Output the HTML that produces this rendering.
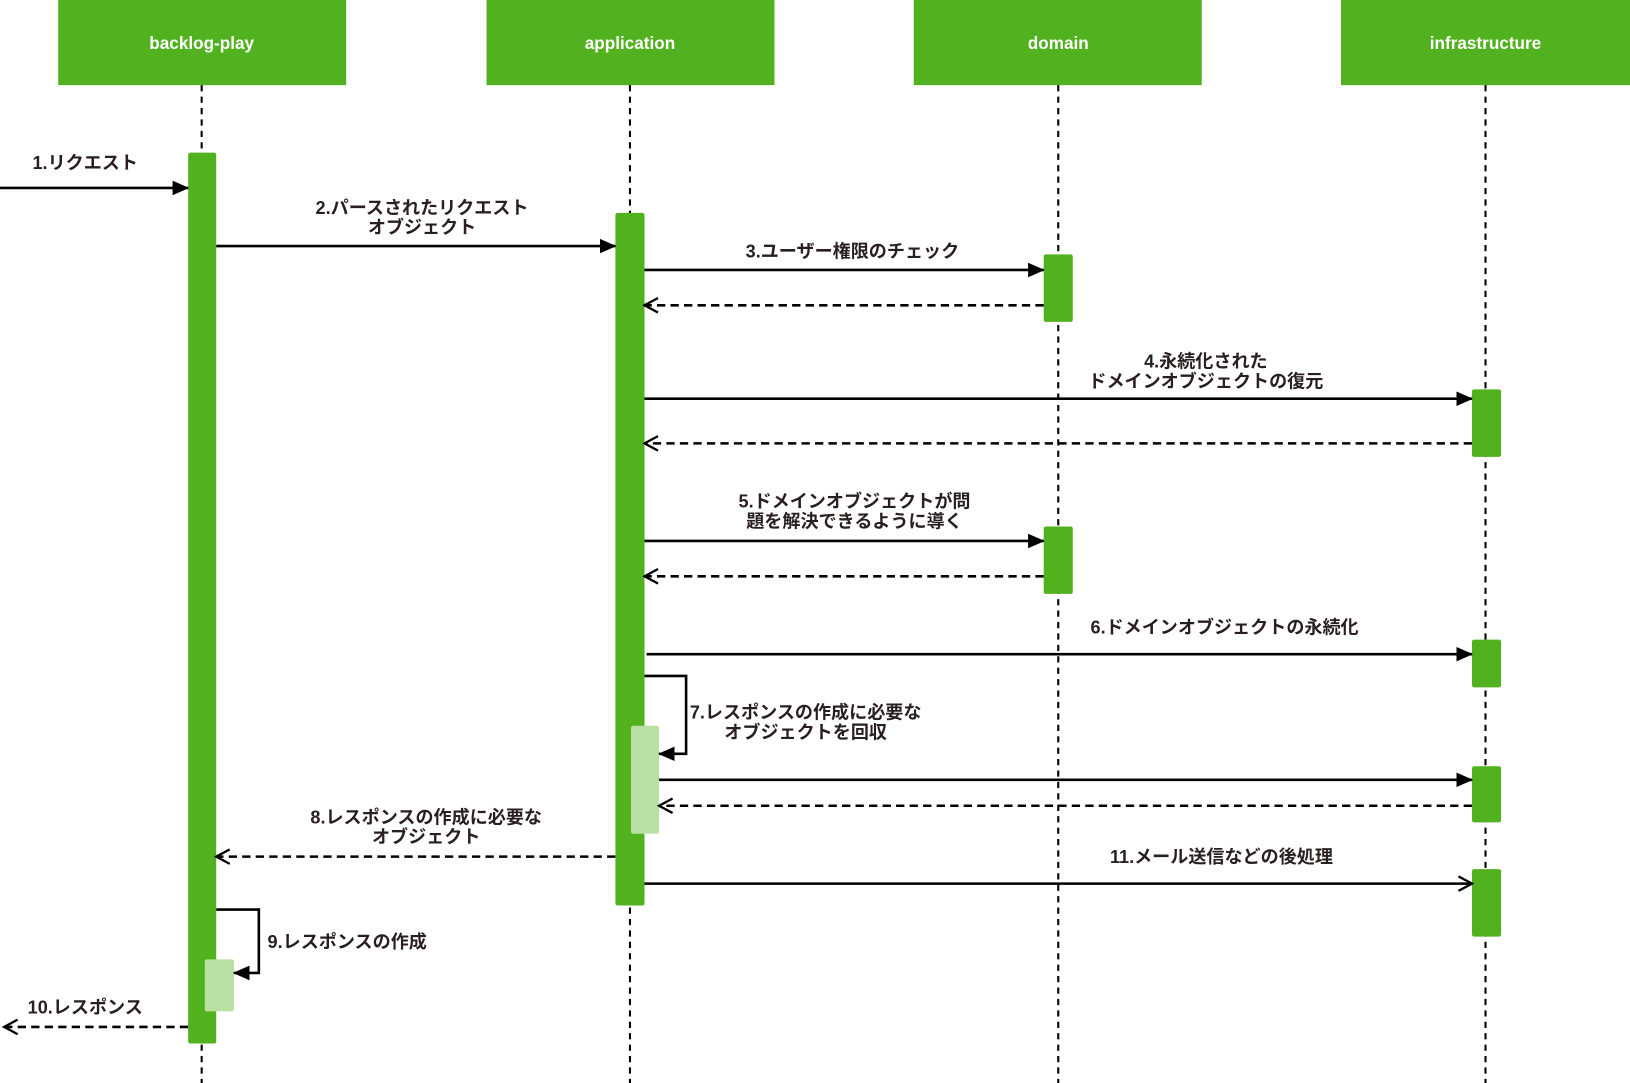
<!DOCTYPE html>
<html><head><meta charset="utf-8">
<style>
html,body{margin:0;padding:0;background:#fff;}
svg{display:block;}
text{font-family:"Liberation Sans","Noto Sans CJK JP",sans-serif;font-weight:bold;}
</style></head>
<body>
<svg width="1630" height="1083" viewBox="0 0 1568 1043" preserveAspectRatio="none" xmlns="http://www.w3.org/2000/svg">
<defs>
<marker id="f" markerWidth="16" markerHeight="16" refX="15" refY="8" orient="auto" markerUnits="userSpaceOnUse">
<path d="M0,1 L16,8 L0,15 z" fill="#000"/></marker>
<marker id="o" markerWidth="16" markerHeight="16" refX="14" refY="8" orient="auto" markerUnits="userSpaceOnUse">
<path d="M1,1 L14,8 L1,15" fill="none" stroke="#000" stroke-width="2.2"/></marker>
</defs>
<g fill="#52B11F">
<rect x="56" y="0" width="277" height="82"/>
<rect x="468" y="0" width="277" height="82"/>
<rect x="879" y="0" width="277" height="82"/>
<rect x="1290" y="0" width="278" height="82"/>
</g>
<g fill="#fff" font-size="16.5" text-anchor="middle">
<text x="194" y="47">backlog-play</text>
<text x="606" y="47">application</text>
<text x="1018" y="47">domain</text>
<text x="1429" y="47">infrastructure</text>
</g>
<g stroke="#000" stroke-width="2" stroke-dasharray="6,5">
<line x1="194" y1="82" x2="194" y2="1043"/>
<line x1="606" y1="82" x2="606" y2="1043"/>
<line x1="1018" y1="82" x2="1018" y2="1043"/>
<line x1="1429" y1="82" x2="1429" y2="1043"/>
</g>
<g fill="#52B11F">
<rect x="181" y="147" width="27" height="858" rx="2"/>
<rect x="592" y="205" width="28" height="667" rx="2"/>
<rect x="1004" y="245" width="28" height="65" rx="2"/>
<rect x="1004" y="507" width="28" height="65" rx="2"/>
<rect x="1416" y="375" width="28" height="65" rx="2"/>
<rect x="1416" y="616" width="28" height="46" rx="2"/>
<rect x="1416" y="738" width="28" height="54" rx="2"/>
<rect x="1416" y="837" width="28" height="65" rx="2"/>
</g>
<g fill="#B9E0A3">
<rect x="607" y="699" width="27" height="104" rx="2"/>
<rect x="197" y="924" width="28" height="50" rx="2"/>
</g>
<g stroke="#000" stroke-width="2.5" fill="none">
<line x1="0" y1="181" x2="181" y2="181" marker-end="url(#f)"/>
<line x1="208" y1="237" x2="592" y2="237" marker-end="url(#f)"/>
<line x1="620" y1="260" x2="1004" y2="260" marker-end="url(#f)"/>
<line x1="620" y1="384" x2="1416" y2="384" marker-end="url(#f)"/>
<line x1="620" y1="521" x2="1004" y2="521" marker-end="url(#f)"/>
<line x1="622" y1="630" x2="1416" y2="630" marker-end="url(#f)"/>
<polyline points="620,651 660,651 660,726 634,726" marker-end="url(#f)"/>
<line x1="634" y1="751" x2="1416" y2="751" marker-end="url(#f)"/>
<line x1="620" y1="851" x2="1416" y2="851" marker-end="url(#o)"/>
<polyline points="208,876 249,876 249,937 225,937" marker-end="url(#f)"/>
</g>
<g stroke="#000" stroke-width="2.5" fill="none" stroke-dasharray="8,5">
<line x1="1004" y1="294" x2="620" y2="294" marker-end="url(#o)"/>
<line x1="1416" y1="427" x2="620" y2="427" marker-end="url(#o)"/>
<line x1="1004" y1="555" x2="620" y2="555" marker-end="url(#o)"/>
<line x1="1416" y1="776" x2="634" y2="776" marker-end="url(#o)"/>
<line x1="592" y1="825" x2="208" y2="825" marker-end="url(#o)"/>
<line x1="181" y1="989" x2="4" y2="989" marker-end="url(#o)"/>
</g>
<g fill="#2a1f1f" font-size="17.4" text-anchor="middle">
<text x="82" y="163">1.リクエスト</text>
<text x="406" y="206">2.パースされたリクエスト</text>
<text x="406" y="225">オブジェクト</text>
<text x="820" y="248">3.ユーザー権限のチェック</text>
<text x="1160" y="354">4.永続化された</text>
<text x="1160" y="373">ドメインオブジェクトの復元</text>
<text x="822" y="489">5.ドメインオブジェクトが問</text>
<text x="822" y="508">題を解決できるように導く</text>
<text x="1178" y="610">6.ドメインオブジェクトの永続化</text>
<text x="775" y="692">7.レスポンスの作成に必要な</text>
<text x="775" y="711">オブジェクトを回収</text>
<text x="410" y="793">8.レスポンスの作成に必要な</text>
<text x="410" y="812">オブジェクト</text>
<text x="1175" y="831">11.メール送信などの後処理</text>
<text x="334" y="913">9.レスポンスの作成</text>
<text x="82" y="976">10.レスポンス</text>
</g>
</svg>
</body></html>
